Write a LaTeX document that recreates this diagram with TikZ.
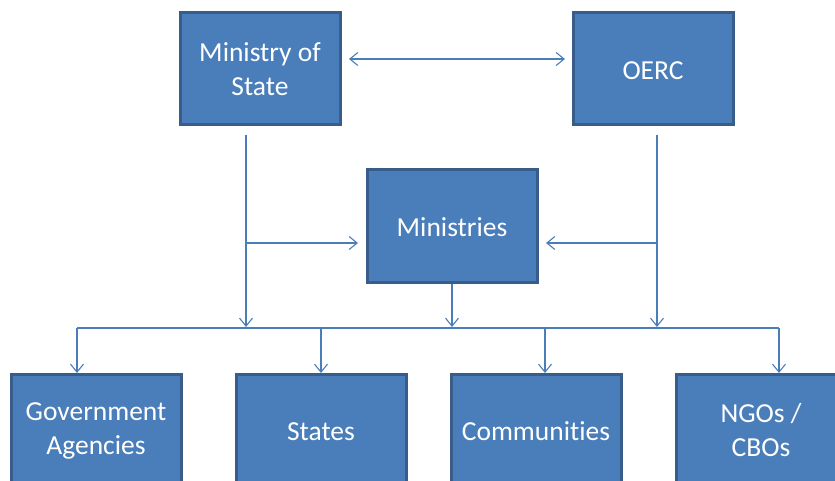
\documentclass[tikz,border=0pt]{standalone}
\usepackage{fontspec}
\setmainfont[Ligatures=NoCommon]{Carlito}
\usetikzlibrary{arrows.meta}
\begin{document}
\begin{tikzpicture}[x=1pt,y=-1pt,
  box/.style={draw=boxborder,fill=boxfill,line width=3pt,text=white,align=center,
    minimum width=160pt,minimum height=112pt,inner sep=0pt,
    font=\fontsize{27.5}{34}\selectfont},
  wbox/.style={box,minimum width=170pt},
  conn/.style={draw=linecol,line width=1.4pt,-{Straight Barb[length=8pt,width=13pt,line width=1.1pt]}},
  dconn/.style={draw=linecol,line width=1.4pt,{Straight Barb[length=8pt,width=13pt,line width=1.1pt]}-{Straight Barb[length=8pt,width=13pt,line width=1.1pt]}},
  line/.style={draw=linecol,line width=1.4pt}]
\definecolor{boxfill}{HTML}{4A7EBB}
\definecolor{boxborder}{HTML}{385D8A}
\definecolor{linecol}{HTML}{4A7EBB}
\useasboundingbox (0,0) rectangle (835,481);
\clip (0,0) rectangle (835,481);
\node[box] (mos) at (260,69) {\rule{0pt}{20pt}Ministry of\\State};
\node[box] (oerc) at (653,69) {\rule{0pt}{22pt}OERC};
\node[wbox] (min) at (452,226) {\rule{0pt}{22pt}Ministries};
\node[wbox] (ga) at (96,430) {\rule{0pt}{20pt}Government\\Agencies};
\node[wbox] (st) at (321,430) {\rule{0pt}{22pt}States};
\node[wbox] (co) at (536,430) {\rule{0pt}{22pt}Communities};
\node[wbox] (ngo) at (761,430) {\rule{0pt}{20pt}NGOs /\\CBOs};
% double arrow
\coordinate (dl) at (349,59);
\coordinate (dr) at (565,59);
\draw[dconn] (dl) -- (dr);
% verticals
\coordinate (mosb) at (246,135);
\coordinate (mosj) at (246,243);
\coordinate (mosbus) at (246,327);
\coordinate (minl) at (358,243);
\coordinate (oercb) at (657,135);
\coordinate (oercj) at (657,243);
\coordinate (oercbus) at (657,327);
\coordinate (minr) at (546,243);
\coordinate (minb) at (452,284);
\coordinate (minbus) at (452,327);
\draw[conn] (mosb) -- (mosbus);
\draw[conn] (mosj) -- (minl);
\draw[conn] (oercb) -- (oercbus);
\draw[conn] (oercj) -- (minr);
\draw[conn] (minb) -- (minbus);
% bus
\coordinate (b1) at (77,328);
\coordinate (b2) at (321,328);
\coordinate (b3) at (545,328);
\coordinate (b4) at (779,328);
\draw[line] (b1) -- (b4);
\draw[conn] (b1) -- (77,373);
\draw[conn] (b2) -- (321,373);
\draw[conn] (b3) -- (545,373);
\draw[conn] (b4) -- (779,373);
\end{tikzpicture}
\end{document}
